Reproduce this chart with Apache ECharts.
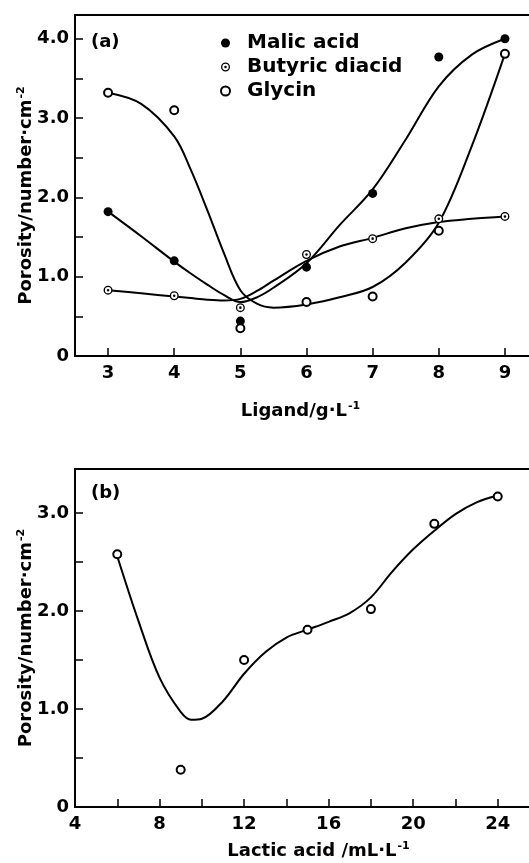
<!DOCTYPE html>
<html>
<head>
<meta charset="utf-8">
<script src="https://cdn.jsdelivr.net/npm/echarts@6/dist/echarts.min.js"></script>
<style>
  html, body { margin: 0; padding: 0; background: #fff; overflow: hidden; }
  #chart { width: 529px; height: 863px; }
</style>
</head>
<body>
<div id="chart"></div>
<script>
// panel (a): measured points
const ligand = [3, 4, 5, 6, 7, 8, 9];
const malic = [1.82, 1.2, 0.44, 1.12, 2.05, 3.77, 4.0];
const butyric = [0.83, 0.76, 0.61, 1.28, 1.48, 1.73, 1.76];
const glycin = [3.32, 3.1, 0.35, 0.68, 0.75, 1.58, 3.81];

// panel (a): hand-drawn curves
const ligandCurve = [3, 3.5, 4, 4.25, 4.5, 4.75, 5, 5.25, 5.5, 6, 6.5, 7, 7.5, 8, 8.5, 9];
const malicCurve = [1.82, 1.51, 1.19, 1.04, 0.9, 0.77, 0.68, 0.74, 0.86, 1.17, 1.65, 2.1, 2.73, 3.4, 3.8, 4.0];
const butyricCurve = [0.83, 0.79, 0.75, 0.73, 0.71, 0.7, 0.72, 0.82, 0.95, 1.2, 1.38, 1.49, 1.61, 1.69, 1.73, 1.76];
const glycinCurve = [3.32, 3.18, 2.77, 2.35, 1.84, 1.3, 0.83, 0.66, 0.61, 0.65, 0.74, 0.87, 1.18, 1.68, 2.65, 3.81];

// panel (b)
const lactic = [6, 9, 12, 15, 18, 21, 24];
const porosityB = [2.58, 0.38, 1.5, 1.81, 2.02, 2.89, 3.17];
const lacticCurve = [6, 7, 8, 9, 9.5, 10, 11, 12, 13, 14, 15, 16, 17, 18, 19, 20, 21, 22, 23, 24];
const porosityCurve = [2.56, 1.9, 1.32, 0.97, 0.89, 0.9, 1.08, 1.36, 1.58, 1.73, 1.81, 1.89, 1.98, 2.14, 2.4, 2.63, 2.82, 2.99, 3.11, 3.18];

// ticks and labels
const xTicksA = [3, 4, 5, 6, 7, 8, 9];
const yTicksA = [0, 0.5, 1, 1.5, 2, 2.5, 3, 3.5, 4];
const yLabelsA = [0, 1, 2, 3, 4];
const xTicksB = [4, 6, 8, 10, 12, 14, 16, 18, 20, 22, 24];
const xLabelsB = [4, 8, 12, 16, 20, 24];
const yTicksB = [0, 0.5, 1, 1.5, 2, 2.5, 3];
const yLabelsB = [0, 1, 2, 3];

const font = 'DejaVu Sans';
const ringDot = 'path://M0,-10A10,10,0,1,1,0,10A10,10,0,1,1,0,-10ZM0,-7A7,7,0,1,0,0,7A7,7,0,1,0,0,-7ZM0,-2.8A2.8,2.8,0,1,1,0,2.8A2.8,2.8,0,1,1,0,-2.8Z';

const zip = (xs, ys) => xs.map((x, i) => [x, ys[i]]);
const yFmt = v => (v === 0 ? '0' : v.toFixed(1));

const nameStyle = {
  fontFamily: font,
  fontSize: 18,
  fontWeight: 'bold',
  color: '#000',
  rich: {
    sup: { fontFamily: font, fontSize: 11, fontWeight: 'bold', color: '#000', verticalAlign: 'top', padding: [0, 0, 9, 1] }
  }
};

const axisCommon = {
  type: 'value',
  nameMoveOverlap: false,
  splitLine: { show: false },
  axisLine: { show: true, onZero: false, lineStyle: { color: '#000', width: 2 } },
  axisTick: { show: true, inside: true, length: 8, lineStyle: { color: '#000', width: 1.5 } },
  axisLabel: { color: '#000', fontFamily: font, fontSize: 18, fontWeight: 'bold' }
};

const curve = (data, xi) => ({
  type: 'line',
  xAxisIndex: xi,
  yAxisIndex: xi,
  data: data,
  smooth: 0.35,
  showSymbol: false,
  silent: true,
  lineStyle: { color: '#000', width: 2 },
  z: 2
});

const chart = echarts.init(document.getElementById('chart'));

chart.setOption({
  backgroundColor: '#fff',
  animation: false,
  title: [
    { text: '(a)', left: 91, top: 33, padding: 0, textStyle: { fontFamily: font, fontSize: 18, fontWeight: 'bold', color: '#000' } },
    { text: '(b)', left: 91, top: 484, padding: 0, textStyle: { fontFamily: font, fontSize: 18, fontWeight: 'bold', color: '#000' } }
  ],
  legend: {
    data: ['Malic acid', 'Butyric diacid', 'Glycin'],
    orient: 'vertical',
    left: 220,
    top: 33,
    padding: 0,
    itemWidth: 9,
    itemHeight: 9,
    itemGap: 4,
    textStyle: { fontFamily: font, fontSize: 20, fontWeight: 'bold', color: '#000', lineHeight: 20, padding: [0, 0, 0, 12] }
  },
  grid: [
    { left: 75, top: 15, width: 463, height: 341, outerBoundsMode: 'none', containLabel: false, show: true, borderColor: '#000', borderWidth: 2 },
    { left: 75, top: 469, width: 465, height: 338, outerBoundsMode: 'none', containLabel: false, show: true, borderColor: '#000', borderWidth: 2 }
  ],
  xAxis: [
    Object.assign({}, axisCommon, {
      gridIndex: 0, min: 2.5, max: 9.5,
      axisTick: Object.assign({}, axisCommon.axisTick, { customValues: xTicksA }),
      axisLabel: Object.assign({}, axisCommon.axisLabel, { customValues: xTicksA, margin: 8 }),
      name: 'Ligand/g·L{sup|-1}', nameLocation: 'middle', nameGap: 45, nameTextStyle: Object.assign({}, nameStyle, { padding: [0, 12, 0, 0] })
    }),
    Object.assign({}, axisCommon, {
      gridIndex: 1, min: 4, max: 26,
      axisTick: Object.assign({}, axisCommon.axisTick, { customValues: xTicksB }),
      axisLabel: Object.assign({}, axisCommon.axisLabel, { customValues: xLabelsB, margin: 8 }),
      name: 'Lactic acid /mL·L{sup|-1}', nameLocation: 'middle', nameGap: 34, nameTextStyle: Object.assign({}, nameStyle, { padding: [0, 0, 0, 22] })
    })
  ],
  yAxis: [
    Object.assign({}, axisCommon, {
      gridIndex: 0, min: 0, max: 4.3,
      axisTick: Object.assign({}, axisCommon.axisTick, { customValues: yTicksA }),
      axisLabel: Object.assign({}, axisCommon.axisLabel, { customValues: yLabelsA, formatter: yFmt, margin: 6 }),
      name: 'Porosity/number·cm{sup|-2}', nameLocation: 'middle', nameGap: 39, nameTextStyle: Object.assign({}, nameStyle, { padding: [0, 20, 0, 0] })
    }),
    Object.assign({}, axisCommon, {
      gridIndex: 1, min: 0, max: 3.45,
      axisTick: Object.assign({}, axisCommon.axisTick, { customValues: yTicksB }),
      axisLabel: Object.assign({}, axisCommon.axisLabel, { customValues: yLabelsB, formatter: yFmt, margin: 6 }),
      name: 'Porosity/number·cm{sup|-2}', nameLocation: 'middle', nameGap: 39, nameTextStyle: nameStyle
    })
  ],
  series: [
    curve(zip(ligandCurve, malicCurve), 0),
    curve(zip(ligandCurve, butyricCurve), 0),
    curve(zip(ligandCurve, glycinCurve), 0),
    curve(zip(lacticCurve, porosityCurve), 1),
    {
      // white backing under the ringed markers
      type: 'scatter', xAxisIndex: 0, yAxisIndex: 0, silent: true,
      data: zip(ligand, butyric), symbol: 'circle', symbolSize: 8,
      itemStyle: { color: '#fff', opacity: 1 }, z: 3
    },
    {
      name: 'Malic acid', type: 'scatter', xAxisIndex: 0, yAxisIndex: 0,
      data: zip(ligand, malic), symbol: 'circle', symbolSize: 9,
      itemStyle: { color: '#000', opacity: 1 }, z: 4
    },
    {
      name: 'Butyric diacid', type: 'scatter', xAxisIndex: 0, yAxisIndex: 0,
      data: zip(ligand, butyric), symbol: ringDot, symbolSize: 9, symbolKeepAspect: true,
      itemStyle: { color: '#000', opacity: 1 }, z: 4
    },
    {
      name: 'Glycin', type: 'scatter', xAxisIndex: 0, yAxisIndex: 0,
      data: zip(ligand, glycin), symbol: 'emptyCircle', symbolSize: 8,
      itemStyle: { color: '#000', borderColor: '#000', borderWidth: 1.5, opacity: 1 }, z: 4
    },
    {
      name: 'Lactic acid', type: 'scatter', xAxisIndex: 1, yAxisIndex: 1,
      data: zip(lactic, porosityB), symbol: 'emptyCircle', symbolSize: 8,
      itemStyle: { color: '#000', borderColor: '#000', borderWidth: 1.5, opacity: 1 }, z: 4
    }
  ]
});
</script>
</body>
</html>
